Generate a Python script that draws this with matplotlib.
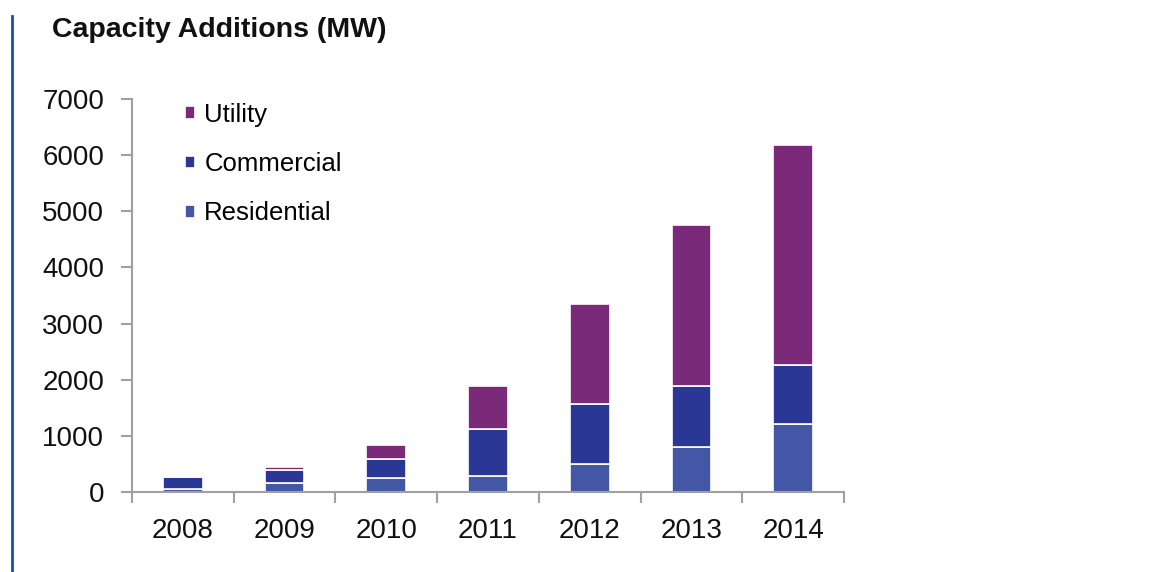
import matplotlib
matplotlib.use("Agg")
import matplotlib.pyplot as plt
from matplotlib.lines import Line2D
import numpy as np

plt.rcParams['font.family'] = ['Liberation Sans', 'DejaVu Sans']

years = ['2008', '2009', '2010', '2011', '2012', '2013', '2014']
residential = [60, 160, 250, 290, 495, 810, 1215]
commercial = [200, 230, 340, 835, 1065, 1085, 1055]
utility = [5, 50, 250, 770, 1790, 2860, 3915]

c_res = '#4457A6'
c_com = '#2B3795'
c_uti = '#7B2979'
grey = '#A0A0A0'

fig = plt.figure(figsize=(11.58, 5.72), dpi=100)
ax = fig.add_axes((132 / 1158, 1 - 492 / 572, 712 / 1158, 393 / 572))

x = np.arange(len(years))
w = 0.39
res = np.array(residential)
com = np.array(commercial)
uti = np.array(utility)
b1 = ax.bar(x, res, w, color=c_res, edgecolor='white', linewidth=1.2, label='Residential')
b2 = ax.bar(x, com, w, bottom=res, color=c_com, edgecolor='white', linewidth=1.2, label='Commercial')
b3 = ax.bar(x, uti, w, bottom=res + com, color=c_uti, edgecolor='white', linewidth=1.2, label='Utility')

ax.set_xlim(-0.5, len(years) - 0.5)
ax.set_ylim(0, 7000)
ax.set_yticks(range(0, 7001, 1000))
ax.set_xticks(x)
ax.set_xticklabels(years)
ax.set_xticks(np.arange(-0.5, len(years), 1), minor=True)

for s in ['top', 'right']:
    ax.spines[s].set_visible(False)
for s in ['left', 'bottom']:
    ax.spines[s].set_color(grey)
    ax.spines[s].set_linewidth(1.5)

ax.tick_params(axis='y', length=8, width=1.5, color=grey, labelsize=20,
               labelcolor='#111111', pad=12)
ax.tick_params(axis='x', which='major', length=0, labelsize=20,
               labelcolor='#111111', pad=19)
ax.tick_params(axis='x', which='minor', length=8, width=1.5, color=grey)

handles = [b3, b2, b1]
fig.legend(handles, ['Utility', 'Commercial', 'Residential'],
           loc='upper left', bbox_to_anchor=(185 / 1158, 1 - 103 / 572),
           frameon=False, fontsize=18.5, handlelength=0.4, handleheight=0.4,
           handletextpad=0.35, labelspacing=0.98, borderpad=0, borderaxespad=0)

fig.text(52 / 1158, 1 - 30 / 572, 'Capacity Additions (MW)', fontsize=20.5,
         fontweight='bold', color='#111111', ha='left', va='center')

fig.add_artist(Line2D([12 / 1158, 12 / 1158], [0, 1 - 16 / 572],
                      transform=fig.transFigure, color='#1F4E9C', lw=2))

fig.savefig('out.png', dpi=100, facecolor='white')
